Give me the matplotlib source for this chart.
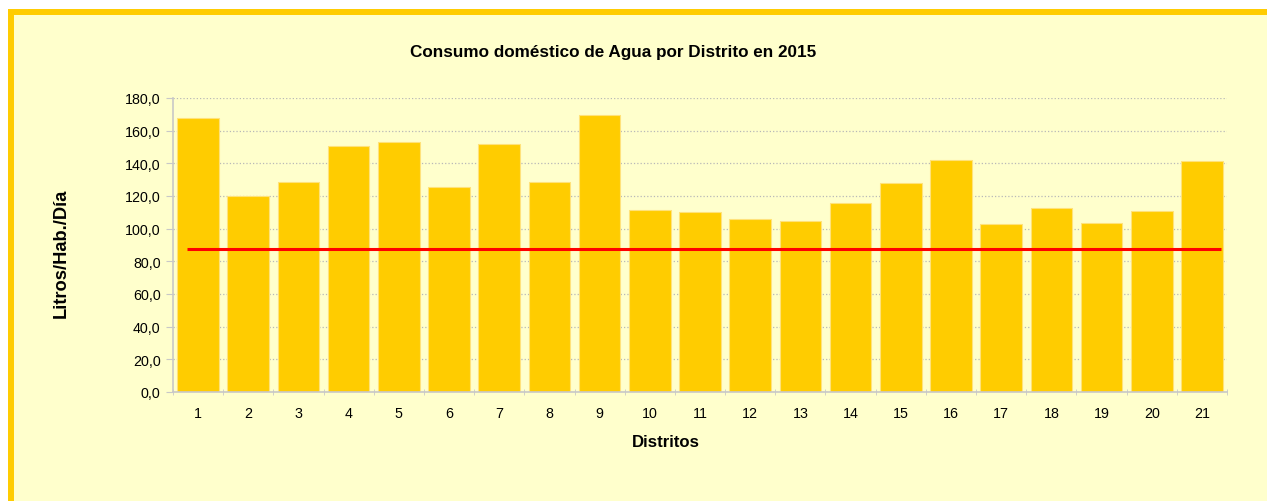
import matplotlib.pyplot as plt
import matplotlib.patches as mpatches
import numpy as np

plt.rcParams['font.family'] = ['Liberation Sans', 'DejaVu Sans']

distritos = [str(i) for i in range(1, 22)]
consumo = [167.6, 119.7, 128.3, 150.6, 153.3, 125.3, 151.9, 128.6, 169.6, 111.2,
           110.2, 105.7, 104.5, 115.7, 128.2, 142.1, 103.1, 112.7, 103.3, 110.8, 141.3]
referencia = 87.3
y_ticks = [0, 20, 40, 60, 80, 100, 120, 140, 160, 180]

bg = '#FFFFCC'
gold = '#FFCC00'

fig = plt.figure(figsize=(12.67, 5.02), dpi=100)
fig.patch.set_facecolor('white')

# yellow frame (only top/left visible in the original crop)
frame = mpatches.Rectangle((10.5 / 1267, -0.2), 1.5, (502 - 13) / 502 + 0.2,
                           transform=fig.transFigure, facecolor=bg,
                           edgecolor=gold, linewidth=4.3, zorder=-10)
fig.patches.append(frame)

ax = fig.add_axes([173 / 1267, 109 / 502, 1054 / 1267, 294 / 502])
ax.set_facecolor('none')

xs = np.arange(1, len(consumo) + 1)
ax.bar(xs, consumo, width=0.83, color=gold, edgecolor='#FFE27A', linewidth=0.8, zorder=2)
ax.hlines(referencia, 0.77, 21.39, color='#FF0000', linewidth=2.2, zorder=3)

ax.set_xlim(0.5, 21.5)
ax.set_ylim(0, 180)
ax.set_yticks(y_ticks)
ax.set_yticklabels([f'{v:.1f}'.replace('.', ',') for v in y_ticks], fontsize=10.3)
ax.set_xticks(xs)
ax.set_xticklabels(distritos, fontsize=10.3)
ax.set_xticks(np.arange(0.5, 22, 1), minor=True)
ax.tick_params(axis='x', which='major', length=0, pad=10)
ax.tick_params(axis='x', which='minor', length=5, color='#C8C8C8', direction='inout')
ax.tick_params(axis='y', length=5, color='#C8C8C8', direction='out', pad=4)

ax.grid(axis='y', color='#B8B8B8', linestyle=':', linewidth=0.9, zorder=1)
ax.set_axisbelow(True)
for s in ['top', 'right']:
    ax.spines[s].set_visible(False)
for s in ['left', 'bottom']:
    ax.spines[s].set_color('#C8C8C8')
    ax.spines[s].set_linewidth(1.2)

ax.set_xlabel('Distritos', fontsize=12.1, fontweight='bold', va='center', ha='center')
ax.xaxis.set_label_coords(0.4677, -0.1667)
ax.set_ylabel('Litros/Hab./Día', fontsize=13.2, fontweight='bold', va='center', ha='center')
ax.yaxis.set_label_coords(-0.1056, 0.476)
fig.text(613 / 1267, 1 - 52 / 502, 'Consumo doméstico de Agua por Distrito en 2015',
         ha='center', va='center', fontsize=12.3, fontweight='bold')

fig.savefig('out.png', dpi=100, facecolor=fig.get_facecolor())
